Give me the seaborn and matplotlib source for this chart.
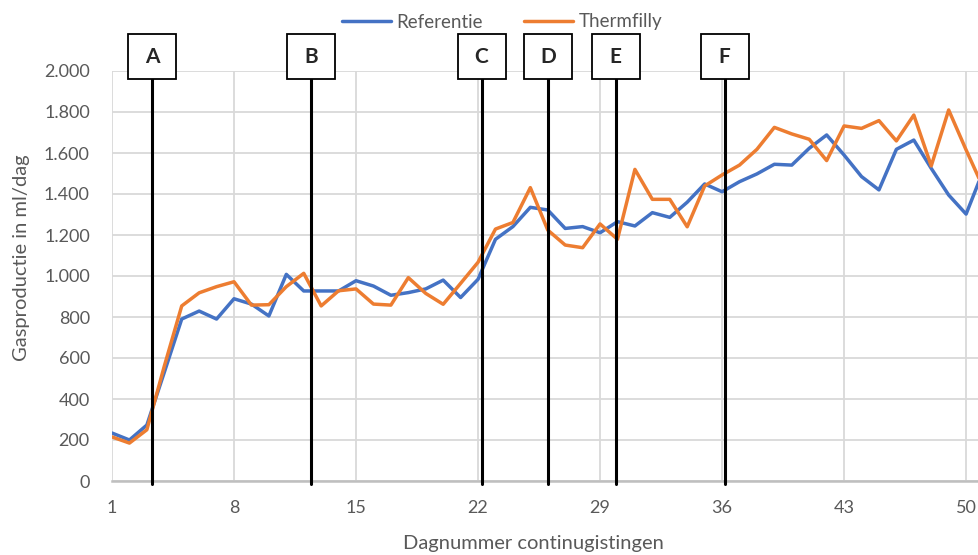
import numpy as np
import pandas as pd
import matplotlib
matplotlib.use('Agg')
import matplotlib.pyplot as plt
from matplotlib.patches import Rectangle
import seaborn as sns

days = list(range(1, 52))
referentie = [234, 200, 273, 530, 790, 829, 790, 889, 863, 805,
              1008, 927, 927, 927, 977, 951, 906, 919, 937, 980,
              895, 984, 1179, 1241, 1335, 1322, 1232, 1241, 1211, 1265,
              1244, 1309, 1286, 1360, 1449, 1411, 1460, 1498, 1545, 1541,
              1623, 1688, 1590, 1485, 1420, 1618, 1663, 1525, 1395, 1302,
              1517]
thermfilly = [215, 185, 250, 560, 854, 918, 948, 972, 858, 860,
              948, 1013, 854, 928, 937, 863, 858, 992, 915, 862,
              964, 1067, 1229, 1261, 1431, 1224, 1151, 1138, 1254, 1179,
              1520, 1374, 1374, 1240, 1439, 1493, 1541, 1618, 1725, 1693,
              1667, 1563, 1732, 1720, 1758, 1659, 1785, 1537, 1810, 1615,
              1428]
markers = ['A', 'B', 'C', 'D', 'E', 'F']
marker_days = [3.3, 12.42, 22.2, 26.03, 29.9, 36.15]

df = pd.DataFrame({
    'dag': days * 2,
    'gas': referentie + thermfilly,
    'serie': ['Referentie'] * len(days) + ['Thermfilly'] * len(days),
})

sns.set_style('white')
plt.rcParams['font.family'] = ['Lato', 'DejaVu Sans']
grey = '#595959'

fig = plt.figure(figsize=(9.79, 5.55), dpi=100)
ax = fig.add_axes([112 / 979, 74 / 555, 1 - 112 / 979, 410 / 555])

sns.lineplot(data=df, x='dag', y='gas', hue='serie',
             palette={'Referentie': '#4472C4', 'Thermfilly': '#ED7D31'},
             linewidth=2.5, ax=ax, zorder=3)

ax.set_xlim(1, 50.74)
ax.set_ylim(0, 2000)
ax.set_xticks([1, 8, 15, 22, 29, 36, 43, 50])
ax.set_yticks(range(0, 2001, 200))
ax.set_yticklabels([f'{v:,}'.replace(',', '.') for v in range(0, 2001, 200)])
ax.grid(True, color='#d9d9d9', linewidth=1.3, zorder=0)
ax.tick_params(axis='both', length=0, labelsize=13, colors=grey)
ax.tick_params(axis='y', pad=16)
ax.tick_params(axis='x', pad=14)
for s in ['top', 'right', 'left']:
    ax.spines[s].set_visible(False)
ax.spines['bottom'].set_color('#bfbfbf')
ax.spines['bottom'].set_linewidth(1.8)
ax.set_xlabel('')
ax.set_ylabel('')

fig.text(533 / 979, 1 - 544 / 555, 'Dagnummer continugistingen', ha='center',
         va='center', fontsize=14.5, color=grey)
fig.text(22 / 979, 1 - 258 / 555, 'Gasproductie in ml/dag', ha='center',
         va='center', rotation=90, fontsize=14.5, color=grey)

# phase markers
box_w = 48 / ((979 - 112) / 49.74)
for lab, d in zip(markers, marker_days):
    ax.axvline(d, ymin=-0.007, ymax=0.98, color='black', linewidth=2.2,
               clip_on=False, zorder=4)
    ax.add_patch(Rectangle((d - box_w / 2, 0.9805), box_w, 0.1098,
                           transform=ax.get_xaxis_transform(), clip_on=False,
                           facecolor='white', edgecolor='black', linewidth=1.3,
                           zorder=5))
    ax.text(d, 1.035, lab, transform=ax.get_xaxis_transform(), ha='center',
            va='center', fontsize=15, fontweight='bold', zorder=6)

handles, labels = ax.get_legend_handles_labels()
ax.legend(handles, labels, loc='center', bbox_to_anchor=(502 / 979, 1 - 22 / 555),
          bbox_transform=fig.transFigure, ncol=2, frameon=False, fontsize=13.5,
          handlelength=2.6, handletextpad=0.3, columnspacing=2.2,
          labelcolor=grey)

fig.savefig('out.png', dpi=100)
